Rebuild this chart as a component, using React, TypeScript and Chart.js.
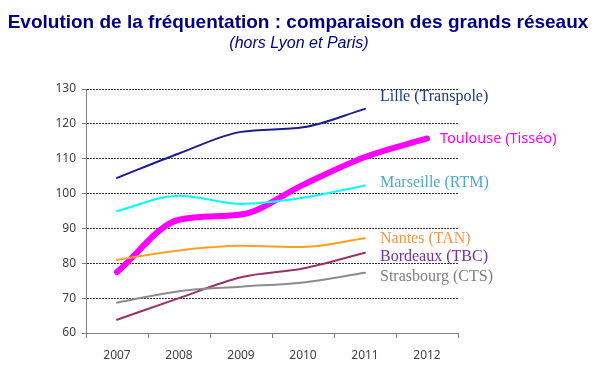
import React, { useEffect, useRef } from "react";
import { Chart, registerables } from "chart.js";

Chart.register(...registerables);

const years = ["2007", "2008", "2009", "2010", "2011", "2012"];
const yTicks = [60, 70, 80, 90, 100, 110, 120, 130];

const lille = [104.5, 111.5, 117.7, 119.0, 124.3, null];
const marseille = [95.0, 99.4, 97.0, 98.8, 102.3, null];
const nantes = [81.0, 83.7, 85.0, 84.7, 87.2, null];
const bordeaux = [63.8, 70.0, 76.0, 78.5, 83.0, null];
const strasbourg = [68.7, 72.0, 73.3, 74.5, 77.3, null];
const toulouse = [77.5, 92.5, 94.0, 102.5, 110.5, 115.8];

const titleText = "Evolution de la fréquentation : comparaison des grands réseaux";
const subtitleText = "(hors Lyon et Paris)";

// label: text, anchor category, value (y), colour, font
const seriesLabels = [
  { text: "Lille (Transpole)", year: "2011", value: 127.8, color: "#1f3a78", font: '16px "Liberation Serif"' },
  { text: "Toulouse (Tisséo)", year: "2012", value: 115.6, color: "#ff00ff", font: '14.5px "Noto Sans"' },
  { text: "Marseille (RTM)", year: "2011", value: 103.2, color: "#4bacc6", font: '16px "Liberation Serif"' },
  { text: "Nantes (TAN)", year: "2011", value: 87.0, color: "#f79646", font: '16px "Liberation Serif"' },
  { text: "Bordeaux (TBC)", year: "2011", value: 81.8, color: "#7030a0", font: '16px "Liberation Serif"' },
  { text: "Strasbourg (CTS)", year: "2011", value: 76.2, color: "#7f7f7f", font: '16px "Liberation Serif"' },
];

const textPlugin = {
  id: "texts",
  afterDraw(chart: any) {
    const ctx = chart.ctx;
    const xs = chart.scales.x;
    const ys = chart.scales.y;
    ctx.save();
    ctx.textAlign = "center";
    ctx.textBaseline = "alphabetic";
    ctx.fillStyle = "#00007f";
    ctx.font = 'bold 19px "Liberation Sans"';
    ctx.fillText(titleText, 298, 28);
    ctx.font = 'italic 16px "Liberation Sans"';
    ctx.fillText(subtitleText, 299, 48);
    ctx.textAlign = "left";
    ctx.textBaseline = "middle";
    for (const l of seriesLabels) {
      const idx = years.indexOf(l.year);
      const x = xs.getPixelForValue(idx) + (l.year === "2012" ? 13 : 15);
      const y = ys.getPixelForValue(l.value);
      ctx.font = l.font;
      ctx.fillStyle = l.color;
      ctx.fillText(l.text, x, y);
    }
    ctx.restore();
  },
};

export default function App() {
  const ref = useRef<HTMLCanvasElement>(null);
  useEffect(() => {
    const canvas = ref.current!;
    const mk = (label: string, data: any[], color: string, width: number) => ({
      label,
      data,
      borderColor: color,
      backgroundColor: color,
      borderWidth: width,
      pointRadius: 0,
      tension: 0.4,
      cubicInterpolationMode: "monotone" as const,
      fill: false,
      spanGaps: false,
      borderCapStyle: "round" as const,
    });
    const chart = new Chart(canvas, {
      type: "line",
      data: {
        labels: years,
        datasets: [
          mk("Lille (Transpole)", lille, "#1c1c8c", 2),
          mk("Marseille (RTM)", marseille, "#00ffff", 2),
          mk("Nantes (TAN)", nantes, "#ffa020", 2),
          mk("Strasbourg (CTS)", strasbourg, "#8c8c8c", 2),
          mk("Bordeaux (TBC)", bordeaux, "#993366", 2),
          mk("Toulouse (Tisséo)", toulouse, "#ff00ff", 6),
        ],
      },
      options: {
        animation: false,
        responsive: false,
        maintainAspectRatio: false,
        layout: { autoPadding: false, padding: { top: 89, left: 0, right: 142, bottom: 0 } },
        plugins: { legend: { display: false }, title: { display: false }, tooltip: { enabled: false } },
        scales: {
          x: {
            type: "category",
            offset: true,
            grid: {
              display: true,
              drawOnChartArea: false,
              drawTicks: true,
              tickLength: 5,
              color: "#7f7f7f",
              offset: true,
            },
            border: { display: true, color: "#7f7f7f", width: 1 },
            ticks: { color: "#404040", font: { family: "Noto Sans", size: 12 }, padding: 10, maxRotation: 0 },
            afterFit: (s: any) => { s.height = 42; },
          },
          y: {
            min: 60,
            max: 130,
            afterBuildTicks: (s: any) => { s.ticks = yTicks.map((v) => ({ value: v })); },
            grid: {
              color: (c: any) => (c.tick && c.tick.value === 60 ? "rgba(0,0,0,0)" : "#333333"),
              tickColor: "#7f7f7f",
              tickLength: 4,
              tickBorderDash: [],
              lineWidth: 1,
            },
            border: { display: true, color: "#7f7f7f", width: 1, dash: [2, 1] },
            ticks: { color: "#404040", font: { family: "Noto Sans", size: 12 }, padding: 6 },
            afterFit: (s: any) => { s.width = 86; },
          },
        },
      },
      plugins: [textPlugin],
    });
    return () => chart.destroy();
  }, []);
  return (
    <div style={{ position: "fixed", left: 0, top: 0, width: 600, height: 375, background: "#fff" }}>
      <canvas ref={ref} width={600} height={375} style={{ width: 600, height: 375 }} />
    </div>
  );
}
